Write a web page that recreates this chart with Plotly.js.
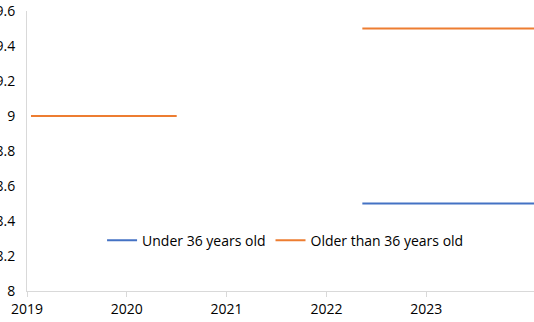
<!DOCTYPE html>
<html><head><meta charset="utf-8">
<script src="https://cdn.plot.ly/plotly-3.0.1.min.js"></script>
<style>html,body{margin:0;padding:0;background:#fff}#c{width:534px;height:322px}</style>
</head><body><div id="c"></div>
<script>
const seriesNames = ["Under 36 years old", "Older than 36 years old"];
const underX = [2022.36, 2024.2];
const underY = [8.5, 8.5];
const olderX = [2019.04, 2020.5, null, 2022.36, 2024.2];
const olderY = [9.0, 9.0, null, 9.5, 9.5];
const yTicks = [8, 8.2, 8.4, 8.6, 8.8, 9, 9.2, 9.4, 9.6];
const xTicks = [2019, 2020, 2021, 2022, 2023];

const traces = [
  {x: underX, y: underY, name: seriesNames[0], mode: 'lines', line: {color: '#4472C4', width: 2}},
  {x: olderX, y: olderY, name: seriesNames[1], mode: 'lines', line: {color: '#ED7D31', width: 2}, connectgaps: false}
];
const layout = {
  width: 534, height: 322,
  margin: {l: 27, r: 0, t: 11, b: 31},
  paper_bgcolor: '#fff', plot_bgcolor: '#fff',
  font: {family: 'Open Sans, Noto Sans, sans-serif', size: 14, color: '#000'},
  showlegend: true,
  legend: {orientation: 'h', x: 0.51, y: 0.18, xanchor: 'center', yanchor: 'middle', font: {size: 14}, itemwidth: 30, tracegroupgap: 0, bgcolor: 'rgba(0,0,0,0)'},
  xaxis: {range: [2019, 2024.08], tickvals: xTicks, ticktext: xTicks.map(String), showgrid: false, zeroline: false,
          showline: true, linecolor: '#d9d9d9', linewidth: 1, ticks: 'outside', ticklen: 5, tickcolor: '#d9d9d9'},
  yaxis: {range: [8, 9.6], tickvals: yTicks, ticktext: yTicks.map(String), showgrid: false, zeroline: false,
          showline: true, linecolor: '#d9d9d9', linewidth: 1, ticks: '', ticklabelstandoff: 8}
};
Plotly.newPlot('c', traces, layout, {displayModeBar: false, staticPlot: true});
</script></body></html>
